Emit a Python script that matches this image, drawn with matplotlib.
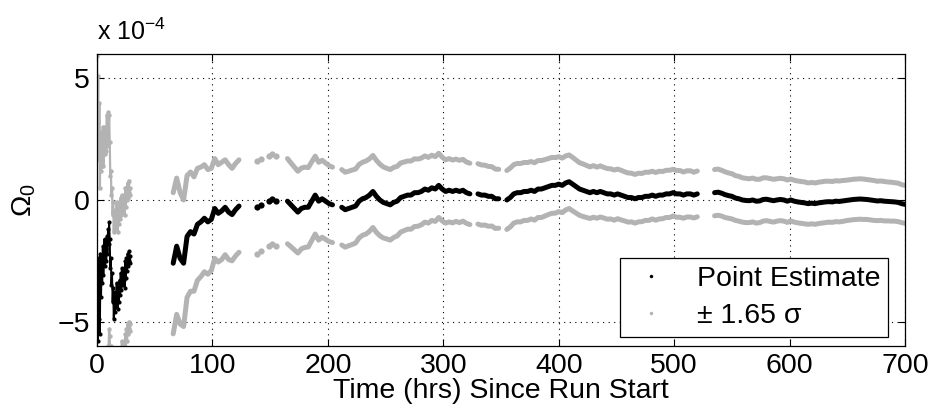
import numpy as np
import matplotlib
matplotlib.use("Agg")
import matplotlib.pyplot as plt
from matplotlib.lines import Line2D

plt.rcParams["font.family"] = ["Liberation Sans", "DejaVu Sans"]
plt.rcParams["mathtext.fontset"] = "custom"
plt.rcParams["mathtext.rm"] = "Liberation Sans"
plt.rcParams["mathtext.it"] = "Liberation Sans:italic"

# Omega_0 point estimate and 1.65 sigma half-width, units of 1e-4
# start of run: sampled every 0.5 hr from 0 to 29 hrs
early_hours_step = 0.5
early_est = [-3.6, -5.8, -2.4, -4.9, -3.0, -5.5, -2.2, -4.0, -2.6, -3.4,
             -1.9, -3.1, -2.2, -1.6, -2.7, -2.0, -2.5, -1.5, -2.2, -1.2,
             -1.8, -0.9, -1.6, -2.8, -2.4, -3.5, -3.0, -4.2, -3.6, -4.9,
             -4.1, -4.6, -3.8, -4.4, -3.4, -4.0, -4.5, -3.6, -4.2, -3.3,
             -3.9, -3.0, -3.7, -2.8, -3.5, -2.9, -3.3, -2.9, -3.6, -2.5,
             -3.2, -2.4, -2.9, -2.2, -2.7, -2.1, -2.5, -2.3, -2.6]
early_band = [9.5, 9.0, 7.5, 6.6, 7.0, 6.0, 5.0, 5.2, 5.0, 4.8,
              4.9, 4.5, 4.8, 4.6, 4.6, 4.8, 4.5, 5.0, 4.4, 4.8,
              4.2, 4.4, 4.0, 3.8, 3.6, 3.7, 3.5, 3.6, 3.5, 3.6,
              3.5, 3.4, 3.4, 3.3, 3.3, 3.3, 3.2, 3.2, 3.2, 3.1,
              3.1, 3.1, 3.1, 3.0, 3.0, 3.0, 3.0, 3.0, 3.0, 3.0,
              2.9, 2.9, 2.9, 2.9, 2.8, 2.9, 2.8, 2.8, 2.8]

# later data blocks, sampled every 3 hrs from each start hour
block_step = 3
block_start = [66, 165, 212, 330, 355, 535]
block_est = [
    [-2.6, -1.9, -2.4, -2.6, -1.5, -1.3, -1.4, -1.0, -0.9, -0.75,
     -0.9, -0.8, -0.35, -0.55, -0.45, -0.3, -0.5, -0.6, -0.4, -0.25],
    [-0.05, -0.2, -0.35, -0.5, -0.35, -0.3, -0.3, -0.05, 0.2, -0.05,
     0.05, -0.05, -0.15, -0.2],
    [-0.3, -0.4, -0.35, -0.3, -0.25, -0.05, 0.05, 0.1, 0.2, 0.35,
     0.15, 0.0, -0.1, -0.15, -0.2, -0.1, -0.05, 0.1, 0.15, 0.2,
     0.2, 0.3, 0.3, 0.35, 0.45, 0.4, 0.5, 0.45, 0.6, 0.45,
     0.35, 0.4, 0.35, 0.4, 0.35, 0.4, 0.3, 0.25],
    [0.25, 0.2, 0.2, 0.15, 0.15, 0.05, 0.05],
    [0.0, 0.1, 0.25, 0.3, 0.3, 0.35, 0.35, 0.4, 0.35, 0.45,
     0.45, 0.5, 0.55, 0.6, 0.6, 0.65, 0.6, 0.7, 0.75, 0.65,
     0.55, 0.45, 0.4, 0.35, 0.3, 0.35, 0.3, 0.35, 0.3, 0.25,
     0.25, 0.2, 0.25, 0.2, 0.15, 0.1, 0.1, 0.05, 0.1, 0.1,
     0.15, 0.15, 0.2, 0.15, 0.2, 0.2, 0.25, 0.25, 0.3, 0.25,
     0.25, 0.2, 0.25, 0.25, 0.2, 0.25],
    [0.3, 0.32, 0.28, 0.22, 0.18, 0.15, 0.08, 0.05, 0.0, -0.02,
     -0.03, 0.0, -0.05, -0.04, 0.02, 0.03, 0.0, -0.03, 0.0, 0.02,
     0.0, -0.05, 0.0, -0.05, -0.08, -0.1, -0.12, -0.15, -0.13, -0.15,
     -0.12, -0.1, -0.08, -0.07, -0.08, -0.05, -0.06, -0.04, -0.02, 0.0,
     0.02, 0.03, 0.04, 0.03, 0.02, 0.0, -0.02, -0.04, -0.03, -0.05,
     -0.06, -0.07, -0.08, -0.1, -0.15, -0.18],
]
block_band = [
    [2.9, 2.8, 2.7, 2.6, 2.5, 2.45, 2.35, 2.3, 2.25, 2.2,
     2.15, 2.1, 2.05, 2.0, 2.0, 1.95, 1.95, 1.9, 1.9, 1.9],
    [1.75, 1.72, 1.7, 1.68, 1.66, 1.65, 1.63, 1.62, 1.6, 1.6,
     1.58, 1.57, 1.56, 1.55],
    [1.55, 1.54, 1.53, 1.53, 1.52, 1.51, 1.5, 1.5, 1.49, 1.48,
     1.48, 1.47, 1.46, 1.45, 1.45, 1.44, 1.43, 1.42, 1.41, 1.4,
     1.4, 1.39, 1.38, 1.37, 1.36, 1.35, 1.34, 1.33, 1.32, 1.31,
     1.3, 1.3, 1.29, 1.28, 1.28, 1.27, 1.26, 1.26],
    [1.24, 1.24, 1.23, 1.23, 1.22, 1.22, 1.21],
    [1.21, 1.21, 1.2, 1.2, 1.2, 1.19, 1.19, 1.18, 1.18, 1.17,
     1.17, 1.16, 1.15, 1.15, 1.14, 1.13, 1.12, 1.11, 1.1, 1.1,
     1.09, 1.08, 1.08, 1.07, 1.06, 1.06, 1.05, 1.05, 1.04, 1.04,
     1.03, 1.03, 1.02, 1.02, 1.01, 1.01, 1.0, 1.0, 1.0, 0.99,
     0.99, 0.99, 0.98, 0.98, 0.98, 0.97, 0.97, 0.97, 0.96, 0.96,
     0.96, 0.95, 0.95, 0.95, 0.94, 0.94],
    [0.95, 0.95, 0.94, 0.94, 0.93, 0.93, 0.92, 0.92, 0.91, 0.91,
     0.9, 0.9, 0.9, 0.89, 0.89, 0.88, 0.88, 0.88, 0.87, 0.87,
     0.87, 0.87, 0.86, 0.86, 0.86, 0.86, 0.86, 0.85, 0.85, 0.85,
     0.85, 0.85, 0.85, 0.84, 0.84, 0.84, 0.84, 0.84, 0.83, 0.83,
     0.83, 0.83, 0.83, 0.83, 0.82, 0.82, 0.82, 0.81, 0.81, 0.81,
     0.8, 0.8, 0.79, 0.79, 0.78, 0.78],
]

# isolated samples between the first two blocks
sparse_hours = [139, 142, 149, 152, 155]
sparse_est = [-0.3, -0.2, -0.05, 0.05, -0.05]
sparse_band = [1.9, 1.9, 1.85, 1.85, 1.85]

scale = 1e-4
grey = "#b3b3b3"
fs = 20.5

fig = plt.figure(figsize=(9.32, 4.11), dpi=100)
ax = fig.add_axes([0.1041, 0.1582, 0.8670, 0.7105])

# noisy start of run
t0 = np.arange(len(early_est)) * early_hours_step
e0 = np.array(early_est)
b0 = np.array(early_band)
for y in (e0 + b0, e0 - b0):
    ax.plot(t0, y * scale, "-o", color=grey, lw=1.6, ms=3.2, mew=0)
ax.plot(t0, e0 * scale, "-o", color="k", lw=1.4, ms=3.0, mew=0)

# steady blocks
for start, est, band in zip(block_start, block_est, block_band):
    t = start + np.arange(len(est)) * block_step
    e = np.array(est)
    b = np.array(band)
    for y in (e + b, e - b):
        ax.plot(t, y * scale, "-", color=grey, lw=3.6, solid_capstyle="round")
    ax.plot(t, e * scale, "-", color="k", lw=3.6, solid_capstyle="round")

ts = np.array(sparse_hours)
es = np.array(sparse_est)
bs = np.array(sparse_band)
for y in (es + bs, es - bs):
    ax.plot(ts, y * scale, "o", color=grey, ms=4.5, mew=0)
ax.plot(ts, es * scale, "o", color="k", ms=4.5, mew=0)

ax.set_xlim(0, 700)
ax.set_ylim(-6e-4, 6e-4)
ax.set_xticks([0, 100, 200, 300, 400, 500, 600, 700])
ax.set_yticks([-5e-4, 0, 5e-4])
ax.set_yticklabels(["\u22125", "0", "5"])
ax.tick_params(direction="in", top=True, right=True, length=5, width=0.8,
               labelsize=fs, pad=5)
ax.grid(True, color="k", linestyle=(0, (1, 4)), linewidth=0.8)
for s in ax.spines.values():
    s.set_linewidth(0.9)

ax.set_xlabel("Time (hrs) Since Run Start", fontsize=fs, labelpad=-1)
ax.set_ylabel(r"$\Omega_0$", fontsize=fs, labelpad=14)
ax.text(0.0, 1.03, r"x 10$^{\mathregular{-4}}$", transform=ax.transAxes,
        fontsize=18, ha="left", va="bottom")

handles = [
    Line2D([], [], ls="none", marker="o", ms=2.5, mew=0, color="k"),
    Line2D([], [], ls="none", marker="o", ms=2.5, mew=0, color=grey),
]
leg = ax.legend(handles, ["Point Estimate", "\u00b1 1.65 \u03c3"],
                loc="lower right", bbox_to_anchor=(0.979, 0.031),
                borderaxespad=0, fontsize=fs, fancybox=False, framealpha=1,
                edgecolor="k", handlelength=1.6, handletextpad=0.8,
                borderpad=0.28, labelspacing=0.4)
leg.get_frame().set_linewidth(0.9)

fig.savefig("out.png", dpi=100)
